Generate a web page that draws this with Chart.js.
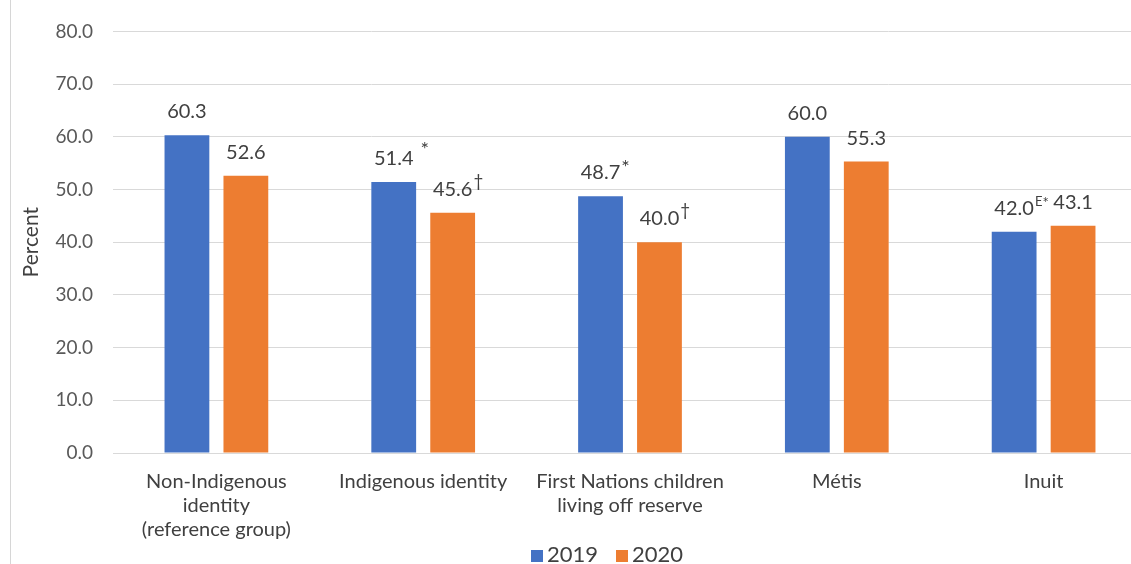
<!DOCTYPE html>
<html>
<head>
<meta charset="utf-8">
<script src="https://cdn.jsdelivr.net/npm/chart.js@4.4.0/dist/chart.umd.min.js"></script>
<style>
  html, body { margin: 0; padding: 0; background: #fff; overflow: hidden; }
  #frame { position: absolute; left: 10px; top: 0; width: 1160px; height: 564px; border-left: 1px solid #d6d6d6; }
  #wrap { position: absolute; left: 0; top: 0; width: 1160px; height: 564px; }
  #legend { position: absolute; left: 531px; top: 543px; display: flex; gap: 18px;
            font: 22px/22px Lato, "Open Sans", sans-serif; color: #404040; white-space: nowrap; }
  #legend .box { display: inline-block; width: 12px; height: 12px; margin-right: 4px; vertical-align: baseline; }
</style>
</head>
<body>
<div id="frame"><div id="wrap"><canvas id="chart"></canvas></div></div>
<div id="legend"></div>
<script>
// categories and series
const categories = [
  ['Non-Indigenous', 'identity', '(reference group)'],
  'Indigenous identity',
  ['First Nations children', 'living off reserve'],
  'Métis',
  'Inuit'
];
const seriesNames = ['2019', '2020'];
const values2019 = [60.3, 51.4, 48.7, 60.0, 42.0];
const values2020 = [52.6, 45.6, 40.0, 55.3, 43.1];
// superscript notes after each value label
const notes2019 = ['', ' *', '*', '', 'E*'];
const notes2020 = ['', '†', '†', '', ''];
const yTicks = [0, 10, 20, 30, 40, 50, 60, 70, 80];

const BLUE = '#4472C4';
const ORANGE = '#ED7D31';
const FONT = 'Lato, "Open Sans", sans-serif';

// draw the superscript marks one by one, each with its own size / lift
function drawNote(ctx, note, x, base) {
  let lift = note[0] === ' ' ? 9 : 5;
  if (note[0] === ' ') { x += 6; note = note.slice(1); }
  for (let k = 0; k < note.length; k++) {
    const ch = note[k];
    let size = 20, dy = lift;
    if (ch === 'E') { size = 13; dy = 9; }
    else if (ch === '*' && note[k - 1] === 'E') { size = 15; dy = 7; }
    else if (ch === '†') { size = 17; dy = 9; }
    ctx.font = size + 'px ' + FONT;
    ctx.fillText(ch, x, base - dy);
    x += ctx.measureText(ch).width;
  }
}

const valueLabels = {
  id: 'valueLabels',
  afterDatasetsDraw(chart) {
    const ctx = chart.ctx;
    const notes = [notes2019, notes2020];
    chart.data.datasets.forEach((ds, di) => {
      const meta = chart.getDatasetMeta(di);
      meta.data.forEach((bar, i) => {
        const txt = ds.data[i].toFixed(1);
        const base = bar.y - 17;   // baseline of the number
        ctx.save();
        ctx.fillStyle = '#404040';
        ctx.font = '20px ' + FONT;
        ctx.textAlign = 'center';
        ctx.textBaseline = 'alphabetic';
        ctx.fillText(txt, bar.x, base);
        const w = ctx.measureText(txt).width;
        const note = notes[di][i];
        if (note) {
          ctx.textAlign = 'left';
          drawNote(ctx, note, bar.x + w / 2 + 1, base);
        }
        ctx.restore();
      });
    });
  }
};

const chart = new Chart(document.getElementById('chart'), {
  type: 'bar',
  data: {
    labels: categories,
    datasets: [
      { label: seriesNames[0], data: values2019, backgroundColor: BLUE },
      { label: seriesNames[1], data: values2020, backgroundColor: ORANGE }
    ]
  },
  options: {
    responsive: true,
    maintainAspectRatio: false,
    animation: false,
    layout: { padding: { top: 24, right: 24, left: 4, bottom: 5 } },
    datasets: { bar: { categoryPercentage: 0.57, barPercentage: 0.76 } },
    plugins: {
      legend: { display: false },
      tooltip: { enabled: false }
    },
    scales: {
      x: {
        grid: { display: false, drawTicks: false },
        border: { color: '#d9d9d9' },
        ticks: { color: '#404040', padding: 17, font: { family: FONT, size: 20, lineHeight: 1.2 }, maxRotation: 0, autoSkip: false }
      },
      y: {
        min: 0, max: 80,
        afterBuildTicks: (axis) => { axis.ticks = yTicks.map(v => ({ value: v })); },
        afterFit: (axis) => { axis.width = 98; },
        grid: { color: '#d9d9d9', drawTicks: false },
        border: { display: false },
        ticks: { color: '#595959', padding: 20, font: { family: FONT, size: 19 }, callback: v => v.toFixed(1) },
        title: { display: true, text: 'Percent', color: '#404040', font: { family: FONT, size: 21, lineHeight: 1.2 }, padding: { top: 4, bottom: 11 } }
      }
    }
  },
  plugins: [valueLabels]
});

// legend built from the datasets
document.getElementById('legend').innerHTML = chart.data.datasets.map(ds =>
  `<span><span class="box" style="background:${ds.backgroundColor}"></span>${ds.label}</span>`
).join('');
</script>
</body>
</html>
